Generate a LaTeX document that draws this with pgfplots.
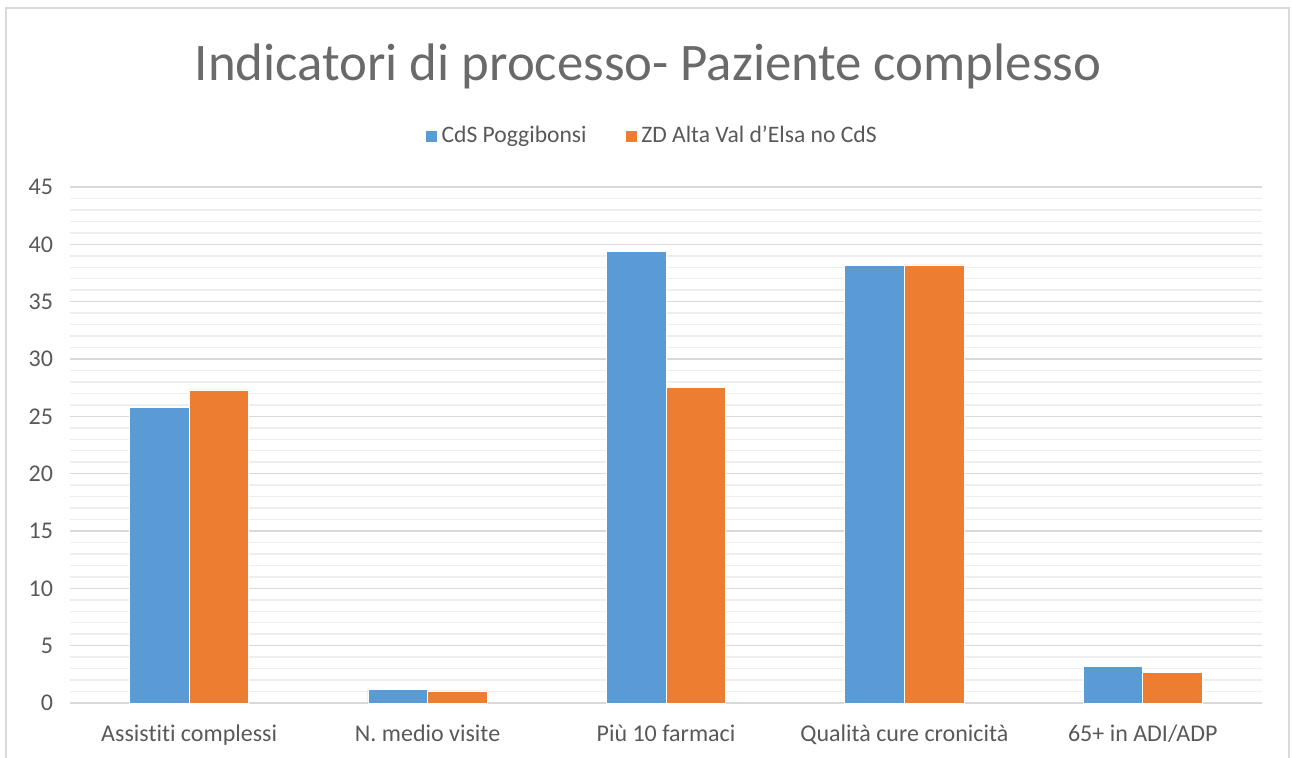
\documentclass[border=0pt]{standalone}
\usepackage{pgfplots}
\pgfplotsset{compat=1.18}
\usepackage{fontspec}
\setmainfont{Carlito}[Ligatures=NoCommon]
\definecolor{cblue}{HTML}{5B9BD5}
\definecolor{corange}{HTML}{ED7D31}
\definecolor{txt}{HTML}{595959}
\definecolor{ttl}{HTML}{6A6A6A}
\definecolor{gmaj}{HTML}{D9D9D9}
\definecolor{gmin}{HTML}{EEEEEE}
\begin{document}
\begin{tikzpicture}[x=0.5pt,y=0.5pt]
\useasboundingbox (0,0) rectangle (1292,758);
\draw[gmaj, line width=0.8pt] (6,-10) -- (6,750) -- (1289,750) -- (1289,-10);
\begin{axis}[
  at={(35pt,27.5pt)}, anchor=south west,
  scale only axis, width=596pt, height=258pt,
  ybar=0pt, bar width=0.25,
  xmin=-0.5, xmax=4.5, ymin=0, ymax=45,
  xtick={0,1,2,3,4},
  xticklabels={Assistiti complessi, N. medio visite, Più 10 farmaci, Qualità cure cronicità, 65+ in ADI/ADP},
  ytick={0,5,...,45},
  minor y tick num=4,
  ymajorgrids, yminorgrids,
  major grid style={gmaj, line width=0.75pt},
  minor grid style={gmin, line width=0.75pt},
  axis line style={draw=none},
  tick style={draw=none},
  axis x line*=bottom, axis y line*=left,
  x axis line style={draw=none},
  tick label style={font=\fontsize{12}{14}\selectfont, text=txt},
  /pgf/number format/assume math mode=true,
  yticklabel style={xshift=-5pt},
  xticklabel style={yshift=-3pt},
  title={Indicatori di processo- Paziente complesso},
  title style={font=\fontsize{26.4}{30}\selectfont, text=ttl, at={(0.485,1.211)}, anchor=center},
  legend style={at={(0.489,1.099)}, anchor=center, draw=none, legend columns=2,
    font=\fontsize{11.8}{13}\selectfont, text=txt,
    /tikz/every even column/.append style={column sep=17pt}},
  legend image code/.code={\fill[#1] (-2pt,-3pt) rectangle (4pt,3pt);},
  clip=false,
]
\draw[gmaj, line width=1pt] (rel axis cs:0,0) -- (rel axis cs:1,0);
\addplot[fill=cblue, draw=white, line width=0.3pt] coordinates {(0,25.75) (1,1.2) (2,39.35) (3,38.15) (4,3.2)};
\addplot[fill=corange, draw=white, line width=0.3pt] coordinates {(0,27.3) (1,1.05) (2,27.55) (3,38.2) (4,2.7)};
\legend{CdS Poggibonsi, ZD Alta Val d’Elsa no CdS}
\end{axis}
\end{tikzpicture}
\end{document}
